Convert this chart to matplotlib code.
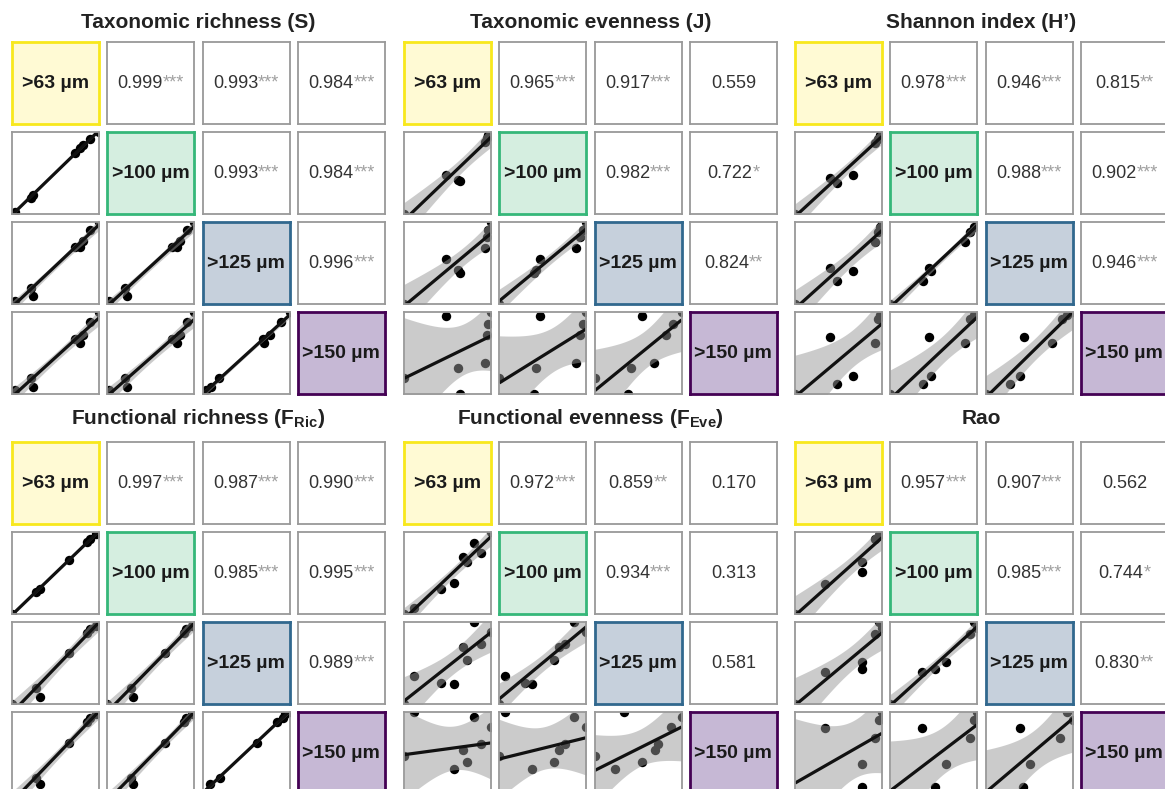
import numpy as np
import matplotlib
matplotlib.use("Agg")
import matplotlib.pyplot as plt
from matplotlib.offsetbox import TextArea, HPacker, AnchoredOffsetbox

plt.rcParams['font.family'] = ['Liberation Sans', 'DejaVu Sans']
plt.rcParams['mathtext.fontset'] = 'custom'
plt.rcParams['mathtext.rm'] = 'Liberation Sans'
plt.rcParams['mathtext.bf'] = 'Liberation Sans:bold'

# size fractions (diagonal of every matrix)
fractions = [">63 µm", ">100 µm", ">125 µm", ">150 µm"]
frac_face = ["#FFFAD4", "#D5EEE0", "#C6D0DC", "#C6B8D5"]
frac_edge = ["#F8E81C", "#35B779", "#31688E", "#440154"]

titles = ["Taxonomic richness (S)", "Taxonomic evenness (J)", "Shannon index (H’)",
          "Functional richness (F$_{\\mathbf{Ric}}$)", "Functional evenness (F$_{\\mathbf{Eve}}$)", "Rao"]

# scaled index values per sample
tax_rich_63 = [0.00, 0.03, 0.22, 0.24, 0.72, 0.78, 0.82, 0.90, 1.00]
tax_rich_100 = [0.00, 0.02, 0.20, 0.23, 0.74, 0.80, 0.84, 0.92, 1.00]
tax_rich_125 = [0.00, 0.04, 0.19, 0.10, 0.69, 0.70, 0.77, 0.90, 1.00]
tax_rich_150 = [0.00, 0.05, 0.20, 0.08, 0.67, 0.62, 0.72, 0.88, 1.00]

tax_even_63 = [0.00, 0.48, 0.62, 0.64, 0.93, 0.95, 0.97, 1.00]
tax_even_100 = [0.00, 0.47, 0.42, 0.40, 0.88, 0.93, 0.96, 1.00]
tax_even_125 = [0.00, 0.55, 0.42, 0.38, 0.68, 0.82, 0.90, 1.00]
tax_even_150 = [0.20, 0.95, 0.32, 0.00, 0.38, 0.72, 0.85, 1.00]

shannon_63 = [0.00, 0.40, 0.48, 0.67, 0.92, 0.95, 0.98, 1.00]
shannon_100 = [0.00, 0.44, 0.38, 0.47, 0.86, 0.92, 0.96, 1.00]
shannon_125 = [0.00, 0.44, 0.28, 0.40, 0.76, 0.88, 0.94, 1.00]
shannon_150 = [0.00, 0.70, 0.12, 0.22, 0.62, 0.92, 0.96, 1.00]

fric_63 = [0.00, 0.28, 0.32, 0.65, 0.86, 0.90, 0.96, 1.00]
fric_100 = [0.00, 0.27, 0.30, 0.66, 0.88, 0.91, 0.97, 1.00]
fric_125 = [0.00, 0.20, 0.08, 0.62, 0.86, 0.92, 0.95, 1.00]
fric_150 = [0.00, 0.20, 0.12, 0.62, 0.88, 0.93, 0.97, 1.00]

feve_63 = [0.00, 0.12, 0.42, 0.57, 0.68, 0.72, 0.81, 0.88, 1.00]
feve_100 = [0.00, 0.07, 0.30, 0.38, 0.69, 0.63, 0.86, 0.75, 1.00]
feve_125 = [0.00, 0.34, 0.26, 0.24, 0.69, 0.54, 1.00, 0.73, 0.88]
feve_150 = [0.45, 0.98, 0.00, 0.30, 0.53, 0.38, 0.92, 0.60, 0.80]

rao_63 = [0.00, 0.35, 0.77, 0.77, 0.92, 0.96, 1.00]
rao_100 = [0.00, 0.37, 0.64, 0.51, 0.92, 0.96, 1.00]
rao_125 = [0.00, 0.39, 0.51, 0.43, 0.85, 1.00, 0.93]
rao_150 = [0.00, 0.81, 0.36, 0.08, 0.68, 0.90, 1.00]

# correlation coefficients, upper triangle order: (1,2) (1,3) (1,4) (2,3) (2,4) (3,4)
tax_rich_r = [0.999, 0.993, 0.984, 0.993, 0.984, 0.996]
tax_rich_sig = ["***", "***", "***", "***", "***", "***"]
tax_even_r = [0.965, 0.917, 0.559, 0.982, 0.722, 0.824]
tax_even_sig = ["***", "***", "", "***", "*", "**"]
shannon_r = [0.978, 0.946, 0.815, 0.988, 0.902, 0.946]
shannon_sig = ["***", "***", "**", "***", "***", "***"]
fric_r = [0.997, 0.987, 0.990, 0.985, 0.995, 0.989]
fric_sig = ["***", "***", "***", "***", "***", "***"]
feve_r = [0.972, 0.859, 0.170, 0.934, 0.313, 0.581]
feve_sig = ["***", "**", "", "***", "", ""]
rao_r = [0.957, 0.907, 0.562, 0.985, 0.744, 0.830]
rao_sig = ["***", "***", "", "***", "*", "**"]

panels = [
    ([tax_rich_63, tax_rich_100, tax_rich_125, tax_rich_150], tax_rich_r, tax_rich_sig),
    ([tax_even_63, tax_even_100, tax_even_125, tax_even_150], tax_even_r, tax_even_sig),
    ([shannon_63, shannon_100, shannon_125, shannon_150], shannon_r, shannon_sig),
    ([fric_63, fric_100, fric_125, fric_150], fric_r, fric_sig),
    ([feve_63, feve_100, feve_125, feve_150], feve_r, feve_sig),
    ([rao_63, rao_100, rao_125, rao_150], rao_r, rao_sig),
]

# two-sided 95% t quantiles by degrees of freedom
T_CRIT = {5: 2.571, 6: 2.447, 7: 2.365, 8: 2.306}


def draw_smooth(ax, x, y):
    x = np.asarray(x, float)
    y = np.asarray(y, float)
    n = len(x)
    slope, icpt = np.polyfit(x, y, 1)
    xs = np.linspace(x.min(), x.max(), 80)
    fit = icpt + slope * xs
    s = np.sqrt(np.sum((y - (icpt + slope * x)) ** 2) / (n - 2))
    se = s * np.sqrt(1 / n + (xs - x.mean()) ** 2 / np.sum((x - x.mean()) ** 2))
    t = T_CRIT[n - 2]
    ax.scatter(x, y, s=46, color="black", linewidths=0, zorder=2)
    ax.fill_between(xs, fit - t * se, fit + t * se, color="#999999", alpha=0.5, lw=0, zorder=3)
    ax.plot(xs, fit, color="#111111", lw=2.3, zorder=4, solid_capstyle="butt")
    ax.set_xlim(x.min(), x.max())
    ax.set_ylim(y.min(), y.max())


def draw_value(ax, r, sig):
    parts = [TextArea(f"{r:.3f}", textprops=dict(fontsize=13, color="#333333"))]
    if sig:
        parts.append(TextArea(sig, textprops=dict(fontsize=13, color="#a0a0a0")))
    box = HPacker(children=parts, align="baseline", pad=0, sep=0)
    anchored = AnchoredOffsetbox(loc="center", child=box, frameon=False, pad=0, borderpad=0)
    ax.add_artist(anchored)


W, H = 1165, 789
fig = plt.figure(figsize=(W / 100, H / 100), dpi=100)

panel_x = [12, 404, 795]
panel_y = [42, 442]
title_y = [22, 418]
pitch_x, pitch_y = 95.3, 90
cw, ch = 87, 82

for k, (data, rs, sigs) in enumerate(panels):
    prow, pcol = k // 3, k % 3
    x0, y0 = panel_x[pcol], panel_y[prow]
    cx = x0 + (3 * pitch_x + cw) / 2
    fig.text(cx / W, 1 - title_y[prow] / H, titles[k], ha="center", va="center",
             fontsize=15, fontweight="bold", color="#222222")
    cells = {}
    for i in range(4):
        for j in range(4):
            left = x0 + j * pitch_x
            top = y0 + i * pitch_y
            ax = fig.add_axes([left / W, 1 - (top + ch) / H, cw / W, ch / H])
            cells[(i, j)] = ax
            ax.set_xticks([])
            ax.set_yticks([])
            for sp in ax.spines.values():
                sp.set_color("#999999")
                sp.set_linewidth(1.3)
                sp.set_zorder(10)
            if i == j:
                ax.set_facecolor(frac_face[i])
                for sp in ax.spines.values():
                    sp.set_color(frac_edge[i])
                    sp.set_linewidth(2.0)
                ax.text(0.5, 0.5, fractions[i], transform=ax.transAxes, ha="center", va="center",
                        fontsize=14, fontweight="bold", color="#1a1a1a", clip_on=False)
            elif i > j:
                draw_smooth(ax, data[j], data[i])
    # upper triangle values in order (0,1) (0,2) (0,3) (1,2) (1,3) (2,3)
    idx = 0
    for i in range(4):
        for j in range(i + 1, 4):
            draw_value(cells[(i, j)], rs[idx], sigs[idx])
            idx += 1

fig.savefig("out.png", dpi=100)
